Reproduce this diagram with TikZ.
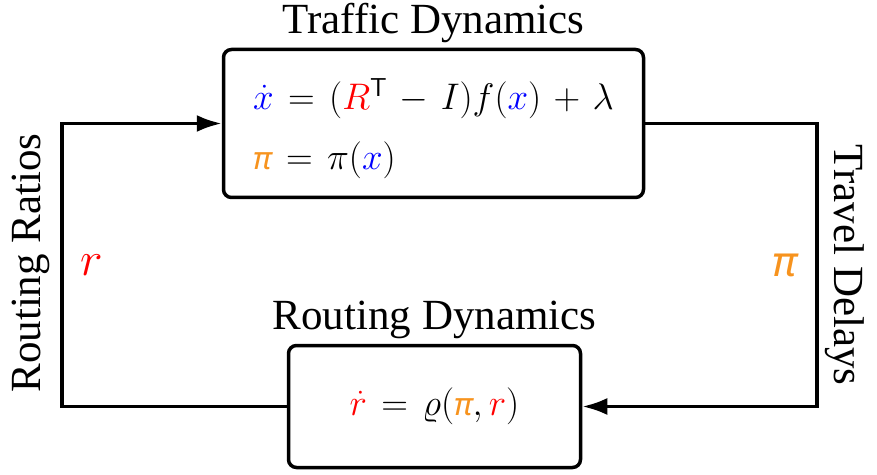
\documentclass[tikz,border=0pt]{standalone}
\usepackage{fix-cm}
\usepackage{amsmath}
\usepackage{fontspec}
\setmainfont{Liberation Serif}
\newfontfamily\pisans{Noto Sans}
\usetikzlibrary{arrows.meta}

\definecolor{xblue}{RGB}{0,0,255}
\definecolor{rred}{RGB}{255,0,0}
\definecolor{piorange}{RGB}{247,147,30}
\newcommand{\opi}{{\color{piorange}\text{\scalebox{0.85}{\pisans\itshape π}}}}
\thickmuskip=7mu plus 2mu
\medmuskip=6mu plus 2mu

\begin{document}
\begin{tikzpicture}[x=1pt,y=1pt,->,>={Latex[length=25pt,width=17pt]},line width=3.5pt,
  dynbox/.style={draw,rounded corners=8pt,inner sep=0pt,font=\fontsize{37}{44}\selectfont},
  title/.style={inner sep=0pt,font=\fontsize{43}{50}\selectfont}]

\useasboundingbox(0,0)rectangle(877,474);

\node[dynbox,minimum width=420pt,minimum height=148pt,align=left](traffic)at(433.5,350.5)
  {\rule{0pt}{42pt}${\color{xblue}\dot{x}}=({\color{rred}R}^{\mathsf{T}}-I)f({\color{xblue}x})+\lambda$\\[16pt]
   $\opi=\pi({\color{xblue}x})$};
\node[dynbox,minimum width=292pt,minimum height=122pt](routing)[below of=traffic,node distance=283pt,xshift=1pt]
  {${\color{rred}\dot{r}}=\varrho(\opi,{\color{rred}r})$};

\node[title,anchor=base](traffictitle)at([yshift=14pt]traffic.north){Traffic Dynamics};
\node[title,anchor=base](routingtitle)at([yshift=14pt]routing.north){Routing Dynamics};

\coordinate(lc)at(62,209);
\coordinate(rc)at(817,209);

\node[title,rotate=90](ratios)at(31,211){Routing Ratios};
\node[title,rotate=-90](delays)at(845,209){Travel Delays};
\node[inner sep=0pt,font=\fontsize{48}{56}\selectfont](rlabel)[right of=lc,node distance=30pt]{$\color{rred}r$};
\node[inner sep=0pt,font=\fontsize{42}{50}\selectfont](pilabel)[left of=rc,node distance=32pt]{\color{piorange}\pisans\itshape π};

\draw(routing.west)-|(lc)|-(traffic.west);
\draw(traffic.east)-|(rc)|-(routing.east);

\end{tikzpicture}
\end{document}
